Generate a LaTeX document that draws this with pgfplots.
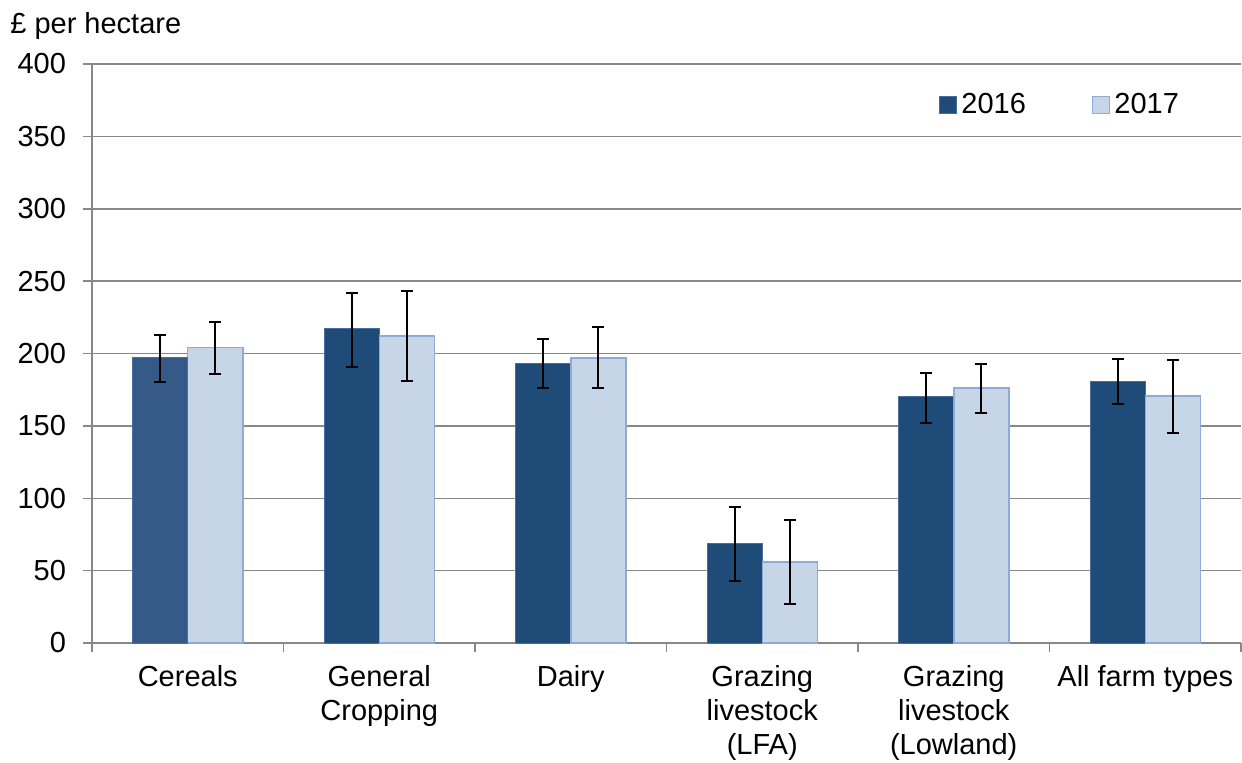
\documentclass[border=0pt]{standalone}
\usepackage{fontspec}
\setmainfont{Liberation Sans}
\usepackage{pgfplots}
\pgfplotsset{compat=1.18}

\definecolor{dark16}{HTML}{1F4B78}
\definecolor{darkcer}{HTML}{365A87}
\definecolor{edge16}{HTML}{4A6E9C}
\definecolor{light17}{HTML}{C6D5E8}
\definecolor{edge17}{HTML}{8EAAD5}
\definecolor{gridgray}{HTML}{888888}

\newcommand{\chartfont}{\fontsize{14.5}{17}\selectfont}

% value, error up, error down
\pgfplotstableread{
x y ep em
1 217 25 26
2 193 17 17
3 68.5 25.5 25.5
4 170 16.5 18
5 181 15 16
}\yrsixteen
\pgfplotstableread{
x y ep em
0 197 16 17
}\cerealssixteen
\pgfplotstableread{
x y ep em
0 204 18 18.5
1 212 31 31
2 197 21 21
3 56 29 29
4 176 16.5 17
5 170.5 25 25.5
}\yrseventeen

\begin{document}
\begin{tikzpicture}
\path[use as bounding box] (0,0) rectangle (621pt,381pt);
\begin{axis}[
  scale only axis,
  width=574.5pt, height=289.5pt,
  at={(46pt,59.5pt)}, anchor=south west,
  clip=false,
  ymin=0, ymax=400,
  xmin=-0.5, xmax=5.5,
  ytick={0,50,...,400},
  xtick={-0.5,0.5,...,5.5},
  x tick label as interval,
  xticklabels={Cereals, General\\Cropping, Dairy, Grazing\\livestock\\(LFA), Grazing\\livestock\\(Lowland), All farm types},
  xticklabel style={align=center, font=\chartfont, text depth=0pt, yshift=-3pt},
  yticklabel style={font=\chartfont, xshift=-5pt},
  /pgf/number format/assume math mode=true,
  axis lines*=left,
  axis line style={-, draw=gridgray, line width=0.75pt},
  tick align=outside,
  major tick length=4.5pt,
  tick style={draw=gridgray, line width=0.75pt},
  ymajorgrids,
  grid style={draw=gridgray, line width=0.75pt},
  ybar,
  bar width=27.5pt,
  error bars/y dir=both,
  error bars/y explicit,
  error bars/error mark options={rotate=90, mark size=3pt, line width=1pt, black},
  error bars/error bar style={line width=1pt, black},
  legend columns=2,
  legend style={at={(rel axis cs:0.8435,0.929)}, anchor=center, draw=none, fill=none,
    font=\chartfont, /tikz/every even column/.append style={column sep=31pt}},
  legend image code/.code={\draw[#1] (0pt,-4.25pt) rectangle (8.5pt,4.25pt);},
]
\addplot[fill=dark16, draw=edge16, line width=0.5pt, bar shift=-13.75pt]
  table[x=x, y=y, y error plus=ep, y error minus=em] {\yrsixteen};
\addlegendentry{2016}
\addplot[fill=light17, draw=edge17, line width=0.75pt, bar shift=13.75pt]
  table[x=x, y=y, y error plus=ep, y error minus=em] {\yrseventeen};
\addlegendentry{2017}
\addplot[fill=darkcer, draw=edge16, line width=0.5pt, bar shift=-13.75pt, forget plot]
  table[x=x, y=y, y error plus=ep, y error minus=em] {\cerealssixteen};
\node[anchor=base west, font=\chartfont, inner sep=0pt] at (rel axis cs:-0.0714,1.0535) {£ per hectare};
\end{axis}
\end{tikzpicture}
\end{document}
